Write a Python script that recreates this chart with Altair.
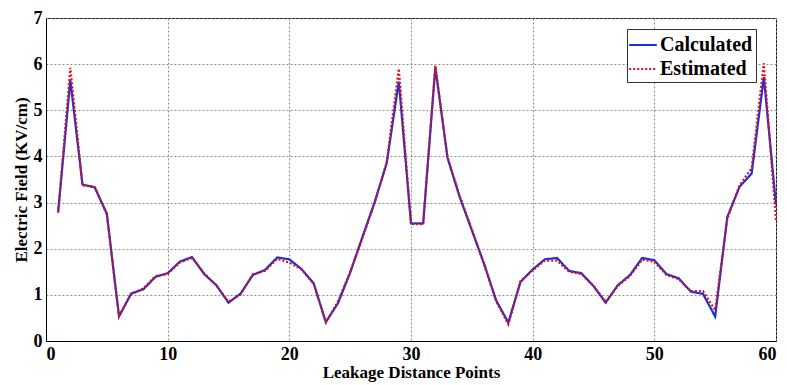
import altair as alt
import pandas as pd

points = list(range(1, 61))
calculated = [2.80, 5.65, 3.39, 3.33, 2.76, 0.53, 1.03, 1.12, 1.39, 1.47,
              1.72, 1.82, 1.45, 1.21, 0.83, 1.03, 1.43, 1.54, 1.81, 1.77,
              1.56, 1.25, 0.41, 0.82, 1.48, 2.25, 3.00, 3.85, 5.62, 2.55,
              2.55, 5.93, 3.97, 3.12, 2.40, 1.68, 0.88, 0.40, 1.28, 1.55,
              1.77, 1.80, 1.52, 1.47, 1.19, 0.83, 1.21, 1.43, 1.80, 1.75,
              1.45, 1.36, 1.07, 1.02, 0.53, 2.69, 3.34, 3.63, 5.72, 2.95]
estimated = [2.78, 5.92, 3.37, 3.35, 2.74, 0.55, 1.01, 1.14, 1.41, 1.45,
             1.70, 1.80, 1.47, 1.20, 0.85, 1.01, 1.45, 1.52, 1.78, 1.70,
             1.55, 1.24, 0.40, 0.86, 1.50, 2.22, 2.98, 3.87, 5.90, 2.53,
             2.53, 5.97, 3.99, 3.15, 2.42, 1.66, 0.86, 0.36, 1.30, 1.53,
             1.74, 1.74, 1.50, 1.45, 1.20, 0.85, 1.19, 1.41, 1.76, 1.72,
             1.43, 1.34, 1.08, 1.08, 0.67, 2.65, 3.37, 3.75, 6.02, 2.62]
series_names = ["Calculated", "Estimated"]
x_ticks = [0, 10, 20, 30, 40, 50, 60]
y_ticks = [0, 1, 2, 3, 4, 5, 6, 7]

df = pd.DataFrame({
    "x": points + points,
    "y": calculated + estimated,
    "series": [series_names[0]] * len(points) + [series_names[1]] * len(points),
})

FONT = "Liberation Serif"

legend = alt.Legend(
    title=None, orient="none", legendX=581, legendY=11,
    strokeColor="#333333", fillColor="white", padding=3,
    labelFont=FONT, labelFontSize=20, labelFontWeight="bold", labelColor="black",
    symbolType="M-1.2,0H1.2", symbolSize=529, symbolStrokeWidth=2.2,
    rowPadding=1, labelOffset=4,
)

chart = alt.Chart(df).mark_line(strokeWidth=2.2).encode(
    x=alt.X("x:Q", scale=alt.Scale(domain=[0, 60], nice=False),
            axis=alt.Axis(values=x_ticks, title="Leakage Distance Points", format="d")),
    y=alt.Y("y:Q", scale=alt.Scale(domain=[0, 7], nice=False),
            axis=alt.Axis(values=y_ticks, title="Electric Field (KV/cm)", format="d")),
    color=alt.Color("series:N", scale=alt.Scale(domain=series_names, range=["#1a30d8", "#e0101a"]),
                    legend=legend),
    strokeDash=alt.StrokeDash("series:N", scale=alt.Scale(domain=series_names, range=[[1, 0], [2, 2]]),
                              legend=legend),
    order=alt.Order("series:N"),
).properties(
    width=730, height=323,
    background="white",
    autosize=alt.AutoSizeParams(type="none"),
    padding={"left": 46, "top": 18, "right": 11, "bottom": 44},
).configure_view(
    stroke="black", strokeWidth=1
).configure_axis(
    labelFont=FONT, labelFontSize=18, labelFontWeight="bold", labelColor="black",
    titleFont=FONT, titleFontSize=17, titleFontWeight="bold", titleColor="black",
    grid=True, gridColor="#8a8a8a", gridDash=[2, 2], gridWidth=1,
    domain=True, domainColor="black", ticks=False,
).configure_axisX(
    labelPadding=4, titlePadding=1,
).configure_axisY(
    labelPadding=4, titlePadding=3,
)

chart.save("out.html", embed_options={"renderer": "svg", "actions": False})
